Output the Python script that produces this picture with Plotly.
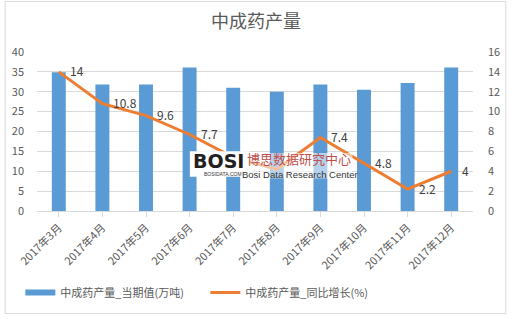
import plotly.graph_objects as go

months = ["2017年3月", "2017年4月", "2017年5月", "2017年6月", "2017年7月",
          "2017年8月", "2017年9月", "2017年10月", "2017年11月", "2017年12月"]
output_vals = [34.9, 31.8, 31.8, 36.1, 31.0, 30.0, 31.8, 30.5, 32.2, 36.1]
growth_vals = [14, 10.8, 9.6, 7.7, 5.4, 4.2, 7.4, 4.8, 2.2, 4]
growth_labels = ["14", "10.8", "9.6", "7.7", "", "", "7.4", "4.8", "2.2", "4"]

FONT = "Noto Sans CJK SC, Liberation Sans, sans-serif"
GREY = "#595959"
BLUE = "#5B9BD5"
ORANGE = "#ED7D31"

fig = go.Figure()
fig.add_trace(go.Bar(
    x=months, y=output_vals, name="中成药产量_当期值(万吨)",
    marker=dict(color=BLUE, line=dict(width=0)), yaxis="y", showlegend=False))
fig.add_trace(go.Scatter(
    x=[None], y=[None], name="中成药产量_当期值(万吨)", mode="lines",
    line=dict(color=BLUE, width=6), yaxis="y"))
fig.add_trace(go.Scatter(
    x=months, y=growth_vals, name="中成药产量_同比增长(%)", mode="lines",
    line=dict(color=ORANGE, width=3), yaxis="y2"))

W, H = 512, 319
L, R, T, B = 33, 34, 52, 105
pw, ph = W - L - R, H - T - B


def px(x):
    return (x - L) / pw


def py(y):
    return (T + ph - y) / ph


annotations = []
for m, v, lab in zip(months, growth_vals, growth_labels):
    if lab:
        annotations.append(dict(
            x=m, y=v, xref="x", yref="y2", text=lab, showarrow=False,
            xanchor="left", yanchor="middle", xshift=9, yshift=1,
            font=dict(size=12, color="#404040", family=FONT)))

annotations += [
    dict(xref="paper", yref="paper", x=px(218), y=py(163), height=14,
         text="<b>BOSI</b>", showarrow=False, yanchor="middle",
         font=dict(size=19, color="#231F20", family="DejaVu Sans"), xanchor="center"),
    dict(xref="paper", yref="paper", x=px(300), y=py(161), height=17,
         text="博思数据研究中心", showarrow=False, yanchor="middle",
         font=dict(size=13, color="#C0504D", family=FONT), xanchor="center"),
    dict(xref="paper", yref="paper", x=px(301), y=py(176.5), height=10,
         text="Bosi Data Research Center", showarrow=False, yanchor="middle",
         font=dict(size=9.5, color="#333333", family="Liberation Sans Narrow, Liberation Sans"),
         xanchor="center"),
    dict(xref="paper", yref="paper", x=px(223), y=py(176), height=5,
         text="BOSIDATA.COM", showarrow=False, yanchor="middle",
         font=dict(size=5, color="#333333", family="Liberation Sans"), xanchor="center"),
]

fig.update_layout(
    width=W, height=H, margin=dict(l=L, r=R, t=T, b=B),
    paper_bgcolor="white", plot_bgcolor="white",
    font=dict(family=FONT, color=GREY, size=11),
    title=dict(text="中成药产量", x=0.5, xanchor="center", y=1 - 22 / H, yanchor="middle",
               font=dict(size=18, color=GREY, family=FONT)),
    bargap=0.68,
    showlegend=True,
    legend=dict(orientation="h", x=px(16), xanchor="left", y=py(297),
                yanchor="middle", font=dict(size=11, color=GREY), itemwidth=30,
                entrywidth=140, traceorder="normal"),
    xaxis=dict(tickangle=-45, showgrid=False, showline=True, linecolor="#D9D9D9",
               ticks="outside", ticklen=5, tickcolor="#D9D9D9",
               tickfont=dict(size=11, color=GREY)),
    yaxis=dict(range=[0, 40], dtick=5, showgrid=True, gridcolor="#D9D9D9",
               zeroline=False, tickfont=dict(size=11, color=GREY), ticklabelstandoff=12),
    yaxis2=dict(range=[0, 16], dtick=2, overlaying="y", side="right", showgrid=False,
                zeroline=False, tickfont=dict(size=11, color=GREY), ticklabelstandoff=14),
    shapes=[
        dict(type="rect", xref="paper", yref="paper",
             x0=px(0.5), x1=px(W - 0.5), y0=py(H - 0.5), y1=py(0.5),
             line=dict(color="#D9D9D9", width=1), layer="below"),
        dict(type="rect", xref="paper", yref="paper",
             x0=px(189), x1=px(250), y0=py(179), y1=py(153),
             fillcolor="white", line=dict(width=0), layer="above"),
        dict(type="rect", xref="paper", yref="paper",
             x0=px(250), x1=px(355), y0=py(181), y1=py(155),
             fillcolor="white", opacity=0.55, line=dict(width=0), layer="above"),
    ],
    annotations=annotations,
)

fig.write_html("out.html")
